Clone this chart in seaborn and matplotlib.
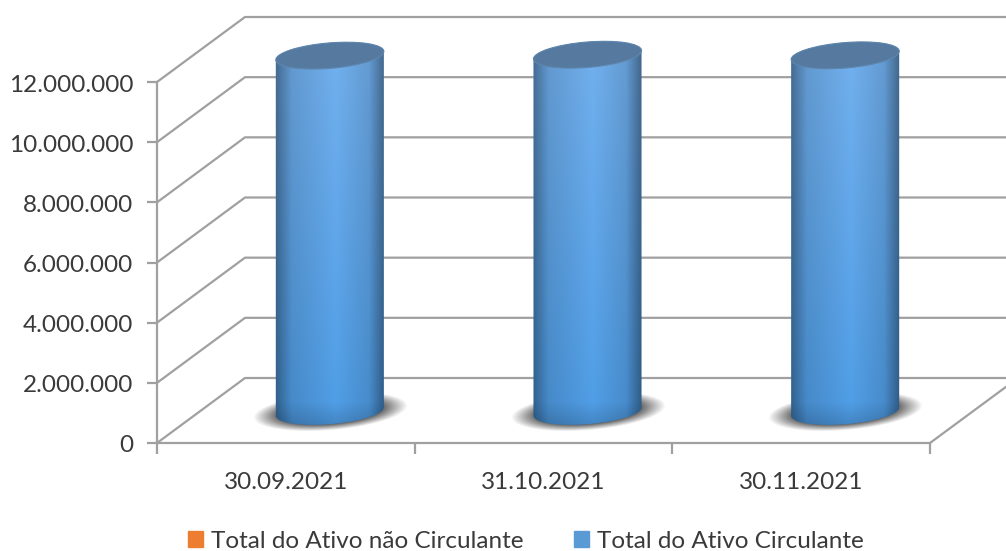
import numpy as np
import matplotlib
matplotlib.use('Agg')
import matplotlib.pyplot as plt
import seaborn as sns
from matplotlib.patches import Ellipse, Patch
from matplotlib.path import Path
from matplotlib.transforms import IdentityTransform, Affine2D

datas = ['30.09.2021', '31.10.2021', '30.11.2021']
nao_circulante = [0, 0, 0]
circulante = [11830000, 11860000, 11840000]
y_ticks = [0, 2000000, 4000000, 6000000, 8000000, 10000000, 12000000]

W, H = 1006, 551
DEPTH_X, DEPTH_Y = 88, 65
GRAY = '#a0a0a0'
TXT = '#3a3a3a'

sns.set_theme(style='white')
plt.rcParams['font.family'] = ['Lato', 'DejaVu Sans']

fig = plt.figure(figsize=(W / 100, H / 100), dpi=100)
ax = fig.add_axes([157 / W, 1 - 443 / H, 773 / W, 361 / H])
ax.patch.set_alpha(0)

sns.barplot(x=datas, y=nao_circulante, color='#ed7d31', width=0.42, ax=ax)
sns.barplot(x=datas, y=circulante, bottom=nao_circulante, color='#5b9bd5', width=0.42, ax=ax)
ax.set_xlim(-0.5, 2.5)
ax.set_ylim(0, 12000000)
ax.autoscale(False)

# axes
for s in ['top', 'right']:
    ax.spines[s].set_visible(False)
for s in ['left', 'bottom']:
    ax.spines[s].set_color(GRAY)
    ax.spines[s].set_linewidth(1.6)
ax.set_yticks(y_ticks, [f'{v:,}'.replace(',', '.') for v in y_ticks])
ax.set_xticks([-0.5, 0.5, 1.5, 2.5], [])
ax.set_xticks([0, 1, 2], datas, minor=True)
ax.tick_params(axis='y', length=7, width=1.6, color=GRAY, labelsize=17.5, labelcolor=TXT, pad=10, left=True)
ax.tick_params(axis='x', which='major', length=8, width=1.6, color=GRAY, bottom=True)
ax.tick_params(axis='x', which='minor', length=0, labelsize=17.5, labelcolor=TXT, pad=21)
for lab in ax.get_yticklabels():
    lab.set_transform(lab.get_transform() + Affine2D().translate(0, -1))

# 3d walls, pixel coords
idt = IdentityTransform()
for v in y_ticks:
    x0, y0 = ax.transData.transform((-0.5, v))
    x1, _ = ax.transData.transform((2.5, v))
    ax.plot([x0, x0 + DEPTH_X, x1 + DEPTH_X], [y0, y0 + DEPTH_Y, y0 + DEPTH_Y],
            color=GRAY, lw=1.6, transform=idt, clip_on=False, zorder=1)
x0, y0 = ax.transData.transform((2.5, 0))
ax.plot([x0, x0 + DEPTH_X], [y0, y0 + DEPTH_Y], color=GRAY, lw=1.6, transform=idt, clip_on=False, zorder=1)


def ellipse_pts(cx, cy, a, b, th, t):
    return np.c_[cx + a * np.cos(t) * np.cos(th) - b * np.sin(t) * np.sin(th),
                 cy + a * np.cos(t) * np.sin(th) + b * np.sin(t) * np.cos(th)]


TILT = np.radians(4.7)
A, B = 54.2, 12.7
t_ext = np.arctan2(-B * np.sin(TILT), A * np.cos(TILT))

h_pos = [0, 0.15, 0.55, 0.85, 1]
h_dark = [0.66, 0.96, 1.1, 0.97, 0.62]

bars = [p for p in ax.patches if p.get_height() > 0]
for p in bars:
    xc = p.get_x() + p.get_width() / 2
    bx, by = ax.transData.transform((xc, 0))
    _, ty = ax.transData.transform((xc, p.get_height()))
    cx = bx + DEPTH_X / 2
    cy0 = by + 31.5
    cy1 = ty + 31.5
    p.set_visible(False)

    # shadow on the floor
    gx, gy = np.meshgrid(np.arange(cx - 100, cx + 100), np.arange(cy0 - 50, cy0 + 50))
    dx, dy = gx - cx, gy - (cy0 - 1)
    u = (dx * np.cos(TILT) + dy * np.sin(TILT)) / 62
    w = (-dx * np.sin(TILT) + dy * np.cos(TILT)) / 15
    r = np.sqrt(u ** 2 + w ** 2)
    rgba = np.zeros(gx.shape + (4,))
    rgba[..., 3] = 0.75 * np.clip((1.25 - r) / 0.5, 0, 1)
    ax.imshow(rgba, origin='lower', extent=(cx - 100, cx + 100, cy0 - 50, cy0 + 50),
              transform=idt, aspect='auto', zorder=2, clip_on=False)

    # body with gradient
    low = ellipse_pts(cx, cy0, A, B, TILT, np.linspace(t_ext - np.pi, t_ext, 60))
    upp = ellipse_pts(cx, cy1, A, B, TILT, np.linspace(t_ext, t_ext + np.pi, 60))
    body = Path(np.r_[low, upp, low[:1]])
    xs = np.linspace(0, 1, 110)
    ys = np.linspace(0, 1, 200)
    shade = np.interp(xs, h_pos, h_dark)
    top_c = np.array([0.41, 0.63, 0.85])
    bot_c = np.array([0.28, 0.56, 0.82])
    grad = (bot_c[None, None, :] + ys[:, None, None] * (top_c - bot_c)[None, None, :]) * shade[None, :, None]
    # darker rim at the base
    rim = np.clip(ys / 0.06, 0, 1)[:, None, None] * 0.15 + 0.85
    grad = np.clip(grad * rim, 0, 1)
    ybot = cy0 - B - 2
    ytop = cy1 + B + 2
    im = ax.imshow(grad, origin='lower', extent=(cx - A - 1, cx + A + 1, ybot, ytop),
                   transform=idt, aspect='auto', zorder=3)
    im.set_clip_box(fig.bbox)
    im.set_clip_path(body, idt)

    ax.add_artist(Ellipse((cx, cy1), 2 * A, 2 * B, angle=np.degrees(TILT), facecolor='#56799f',
                          edgecolor='#5f86ad', lw=0.8, transform=idt, zorder=4, clip_on=False))

ax.set_xlim(-0.5, 2.5)
ax.set_ylim(0, 12000000)

handles = [Patch(color='#ed7d31', label='Total do Ativo não Circulante'),
           Patch(color='#5b9bd5', label='Total do Ativo Circulante')]
leg = fig.legend(handles=handles, ncol=2, frameon=False, loc='center', bbox_to_anchor=(526 / W, 1 - 541 / H),
                 fontsize=17.5, labelcolor=TXT, handlelength=0.62, handleheight=0.62, handletextpad=0.33,
                 columnspacing=2.1)

fig.savefig('out.png', dpi=100)
